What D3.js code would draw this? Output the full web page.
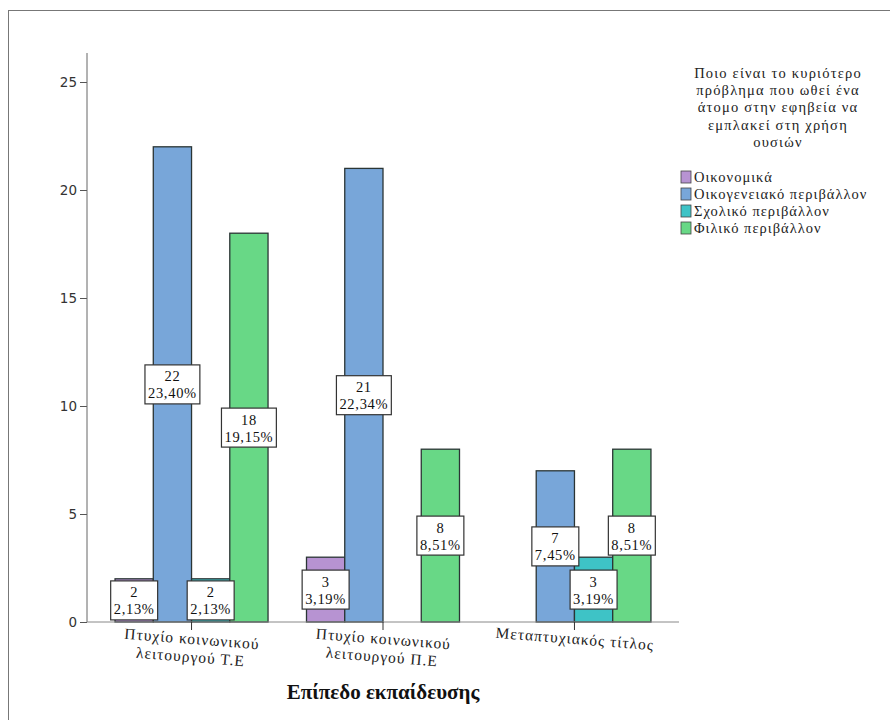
<!DOCTYPE html>
<html>
<head>
<meta charset="utf-8">
<script src="https://cdn.jsdelivr.net/npm/d3@7"></script>
<style>
  html, body { margin: 0; padding: 0; background: #fff; }
  svg { display: block; }
</style>
</head>
<body>
<svg id="chart" width="890" height="720"></svg>
<script>
// Education level categories (x axis groups)
const categories = [
  ["Πτυχίο κοινωνικού", "λειτουργού Τ.Ε"],
  ["Πτυχίο κοινωνικού", "λειτουργού Π.Ε"],
  ["Μεταπτυχιακός τίτλος"]
];
// Series: main problem pushing a teenager to substance use
const seriesNames = ["Οικονομικά", "Οικογενειακό περιβάλλον", "Σχολικό περιβάλλον", "Φιλικό περιβάλλον"];
const seriesColors = ["#b793d2", "#78a6d9", "#3ec3c6", "#68d886"];
// Counts per category, one entry per series (null = no bar)
const counts = [
  [2, 22, 2, 18],
  [3, 21, null, 8],
  [null, 7, 3, 8]
];
// Percent labels (of total 94)
const percents = [
  ["2,13%", "23,40%", "2,13%", "19,15%"],
  ["3,19%", "22,34%", null, "8,51%"],
  [null, "7,45%", "3,19%", "8,51%"]
];
const yTicks = [0, 5, 10, 15, 20, 25];
const legendTitle = ["Ποιο είναι το κυριότερο", "πρόβλημα που ωθεί ένα", "άτομο στην εφηβεία να", "εμπλακεί στη χρήση", "ουσιών"];
const xTitle = "Επίπεδο εκπαίδευσης";

const svg = d3.select("#chart");
const serif = "'Liberation Serif', 'Times New Roman', serif";
const sans = "'DejaVu Sans', sans-serif";

// outer frame
svg.append("rect")
  .attr("x", 8.5).attr("y", 10.5).attr("width", 900).attr("height", 800)
  .attr("fill", "none").attr("stroke", "#777").attr("stroke-width", 1);

const x0 = 87, x1 = 679, yBase = 622, yTop = 53;
const y = d3.scaleLinear().domain([0, 25]).range([yBase, 82]);
const xg = d3.scalePoint().domain(d3.range(categories.length)).range([x0, x1]).padding(0.546);
const xs = d3.scaleBand().domain(d3.range(seriesNames.length)).range([-76.5, 76.5]);

// y axis
const yAxis = svg.append("g").attr("transform", `translate(${x0},0)`)
  .call(d3.axisLeft(y).tickValues(yTicks).tickSize(7).tickPadding(3));
yAxis.select(".domain").remove();
yAxis.selectAll(".tick line").attr("stroke", "#555");
yAxis.selectAll(".tick text").attr("font-family", sans).attr("font-size", 13.5).attr("fill", "#333");
svg.append("line").attr("x1", x0).attr("x2", x0).attr("y1", yTop).attr("y2", yBase)
  .attr("stroke", "#666").attr("stroke-width", 1);

// bars
const groups = svg.append("g").selectAll("g").data(counts).join("g")
  .attr("transform", (d, i) => `translate(${xg(i)},0)`);

groups.selectAll("rect").data(d => d.map((v, j) => ({ v, j })).filter(e => e.v != null))
  .join("rect")
  .attr("x", e => xs(e.j)).attr("width", xs.bandwidth())
  .attr("y", e => y(e.v)).attr("height", e => yBase - y(e.v))
  .attr("fill", e => seriesColors[e.j])
  .attr("stroke", "#2b3535").attr("stroke-width", 1.3);

// x axis line and group ticks
svg.append("line").attr("x1", x0).attr("x2", x1).attr("y1", yBase).attr("y2", yBase)
  .attr("stroke", "#888").attr("stroke-width", 1);
svg.append("g").selectAll("line").data(categories).join("line")
  .attr("x1", (d, i) => xg(i)).attr("x2", (d, i) => xg(i))
  .attr("y1", yBase).attr("y2", yBase + 8)
  .attr("stroke", "#333");

// value label boxes
const labels = svg.append("g");
counts.forEach((row, i) => {
  row.forEach((v, j) => {
    if (v == null) return;
    const cx = xg(i) + xs(j) + xs.bandwidth() / 2;
    const cy = y(v / 2);
    const g = labels.append("g").attr("transform", `translate(${cx},${cy})`);
    const t = g.append("text").attr("text-anchor", "middle")
      .attr("font-family", serif).attr("font-size", 14.5).attr("letter-spacing", 0.7)
      .attr("fill", "#111");
    t.append("tspan").attr("x", 0).attr("y", -3).text(v);
    t.append("tspan").attr("x", 0).attr("y", 14).text(percents[i][j]);
    const bb = t.node().getBBox();
    g.insert("rect", "text")
      .attr("x", -bb.width / 2 - 3).attr("y", -19.5)
      .attr("width", bb.width + 6).attr("height", 39)
      .attr("fill", "#fff").attr("stroke", "#333").attr("stroke-width", 1.2);
  });
});

// x category labels, slightly rotated
categories.forEach((lines, i) => {
  const t = svg.append("text")
    .attr("transform", `translate(${xg(i)},${yBase + 22}) rotate(4.5)`)
    .attr("text-anchor", "middle").attr("font-family", serif)
    .attr("font-size", 15.5).attr("letter-spacing", 1).attr("fill", "#222");
  lines.forEach((l, k) => t.append("tspan").attr("x", 0).attr("y", k * 18).text(l));
});

// x axis title
svg.append("text").attr("x", (x0 + x1) / 2).attr("y", 699).attr("text-anchor", "middle")
  .attr("font-family", serif).attr("font-size", 21).attr("font-weight", "bold")
  .attr("fill", "#111").text(xTitle);

// legend
const lt = svg.append("text").attr("text-anchor", "middle")
  .attr("font-family", serif).attr("font-size", 14.5).attr("letter-spacing", 1.2)
  .attr("fill", "#222");
legendTitle.forEach((l, k) => lt.append("tspan").attr("x", 778).attr("y", 78 + k * 17.2).text(l));

const items = svg.append("g").selectAll("g").data(seriesNames).join("g")
  .attr("transform", (d, k) => `translate(681,${177 + k * 17})`);
items.append("rect").attr("x", 0).attr("y", -6).attr("width", 10).attr("height", 12)
  .attr("fill", (d, k) => seriesColors[k]).attr("stroke", "#444").attr("stroke-width", 0.8);
items.append("text").attr("x", 13).attr("y", 5)
  .attr("font-family", serif).attr("font-size", 14.5).attr("letter-spacing", 1)
  .attr("fill", "#222").text(d => d);
</script>
</body>
</html>
